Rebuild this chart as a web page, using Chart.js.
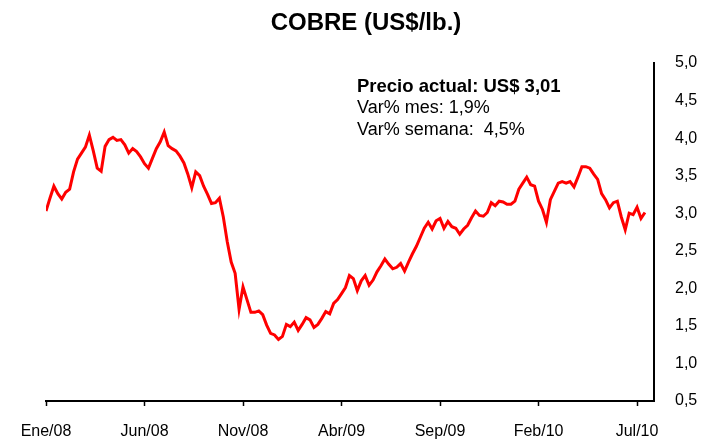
<!DOCTYPE html>
<html>
<head>
<meta charset="utf-8">
<title>Cobre</title>
<script src="https://cdn.jsdelivr.net/npm/chart.js@4.4.0/dist/chart.umd.min.js"></script>
<style>
    html, body { margin: 0; padding: 0; background: #fff; }
    #grafico { display: block; }
</style>
</head>
<body>
<canvas id="grafico" width="704" height="441"></canvas>
<script>
// precio del cobre, un valor cada 0,2 meses desde Ene/08
const pasoMeses = 0.2;
const precios = [
    3.03, 3.20, 3.36, 3.26, 3.19, 3.28, 3.32, 3.55, 3.72, 3.80,
    3.88, 4.04, 3.83, 3.60, 3.56, 3.89, 3.98, 4.01, 3.97, 3.98,
    3.91, 3.80, 3.86, 3.82, 3.75, 3.66, 3.60, 3.73, 3.86, 3.95,
    4.08, 3.90, 3.86, 3.83, 3.76, 3.67, 3.52, 3.34, 3.55, 3.50,
    3.36, 3.25, 3.13, 3.14, 3.20, 2.95, 2.62, 2.35, 2.20, 1.72,
    2.02, 1.85, 1.68, 1.68, 1.70, 1.65, 1.51, 1.40, 1.38, 1.32,
    1.36, 1.52, 1.49, 1.55, 1.44, 1.52, 1.61, 1.58, 1.48, 1.52,
    1.60, 1.69, 1.66, 1.80, 1.85, 1.93, 2.01, 2.17, 2.13, 1.97,
    2.10, 2.17, 2.04, 2.11, 2.22, 2.30, 2.39, 2.32, 2.26, 2.28,
    2.33, 2.23, 2.35, 2.46, 2.56, 2.68, 2.80, 2.88, 2.79, 2.90,
    2.93, 2.80, 2.89, 2.82, 2.80, 2.72, 2.79, 2.84, 2.94, 3.03,
    2.97, 2.96, 3.01, 3.14, 3.10, 3.16, 3.15, 3.12, 3.12, 3.16,
    3.32, 3.40, 3.48, 3.38, 3.36, 3.16, 3.05, 2.88, 3.18, 3.29,
    3.40, 3.42, 3.40, 3.42, 3.35, 3.48, 3.62, 3.62, 3.60, 3.52,
    3.45, 3.26, 3.18, 3.07, 3.14, 3.16, 2.95, 2.78, 3.00, 2.98,
    3.08, 2.93, 3.01
];

const etiquetasX = ["Ene/08", "Jun/08", "Nov/08", "Abr/09", "Sep/09", "Feb/10", "Jul/10"];
const mesesX = [0, 5, 10, 15, 20, 25, 30];
const ticksY = [0.5, 1.0, 1.5, 2.0, 2.5, 3.0, 3.5, 4.0, 4.5, 5.0];

const titulo = "COBRE (US$/lb.)";
const notas = ["Precio actual: US$ 3,01", "Var% mes: 1,9%", "Var% semana:  4,5%"];

const fuente = "'Liberation Sans', Arial, sans-serif";

const textos = {
    id: "textos",
    afterDraw(chart) {
        const ctx = chart.ctx;
        ctx.save();
        ctx.fillStyle = "#000";
        ctx.textBaseline = "middle";

        ctx.font = "bold 24px " + fuente;
        ctx.textAlign = "center";
        ctx.fillText(titulo, 366, 23);

        ctx.textAlign = "left";
        ctx.font = "bold 18.5px " + fuente;
        ctx.fillText(notas[0], 357, 87);
        ctx.font = "18px " + fuente;
        ctx.fillText(notas[1], 357, 108);
        ctx.fillText(notas[2], 357, 130);
        ctx.restore();
    }
};

const config = {
    type: "line",
    data: {
        datasets: [{
            data: precios.map((v, i) => ({ x: i * pasoMeses, y: v })),
            borderColor: "#FF0000",
            borderWidth: 3,
            pointRadius: 0,
            tension: 0,
            fill: false,
        }]
    },
    options: {
        responsive: false,
        animation: false,
        devicePixelRatio: 1,
        layout: {
            padding: { left: 46, top: 63, right: 0, bottom: 0 }
        },
        plugins: {
            legend: { display: false },
            tooltip: { enabled: false },
        },
        scales: {
            x: {
                type: "linear",
                min: 0,
                max: 30.86,
                afterBuildTicks: scale => {
                    scale.ticks = mesesX.map(m => ({ value: m }));
                },
                afterFit: scale => { scale.height = 40; },
                ticks: {
                    autoSkip: false,
                    maxRotation: 0,
                    padding: 16,
                    color: "#000",
                    font: { family: fuente, size: 16 },
                    callback: (v, i) => etiquetasX[i],
                },
                grid: {
                    drawOnChartArea: false,
                    drawTicks: true,
                    tickLength: 5,
                    tickColor: "#000",
                    tickWidth: 1.5,
                },
                border: { display: true, color: "#000", width: 2 },
            },
            y: {
                position: "right",
                min: 0.5,
                max: 5.0,
                afterBuildTicks: scale => {
                    scale.ticks = ticksY.map(v => ({ value: v }));
                },
                afterFit: scale => { scale.width = 50; },
                ticks: {
                    padding: 21,
                    color: "#000",
                    font: { family: fuente, size: 16 },
                    callback: v => v.toFixed(1).replace(".", ","),
                },
                grid: { display: false, drawTicks: false },
                border: { display: true, color: "#000", width: 2 },
            }
        }
    },
    plugins: [textos]
};

const grafico = new Chart(document.getElementById("grafico"), config);
</script>
</body>
</html>
